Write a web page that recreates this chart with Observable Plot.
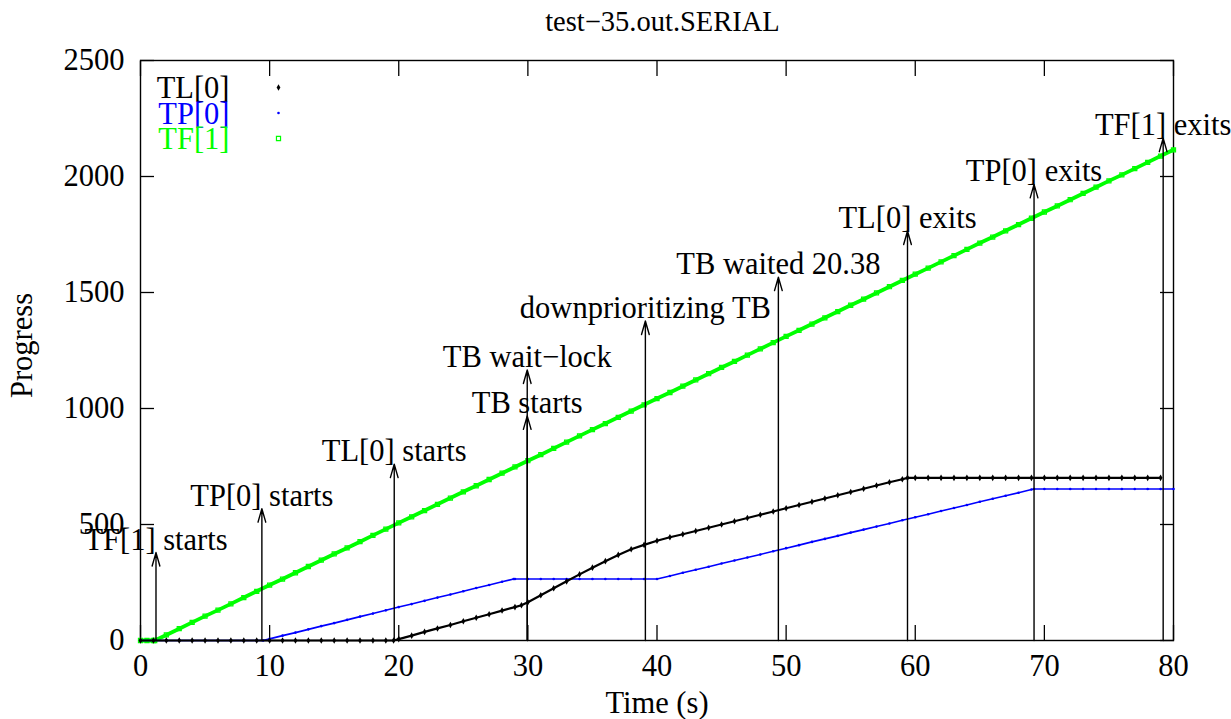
<!DOCTYPE html>
<html>
<head>
<meta charset="utf-8">
<script src="https://cdn.jsdelivr.net/npm/d3@7"></script>
<script src="https://cdn.jsdelivr.net/npm/@observablehq/plot@0.6"></script>
<style>
  html, body { margin: 0; padding: 0; background: #fff; }
  #title { width: 1231px; height: 44px; line-height: 44px; box-sizing: border-box; padding-left: 94px;
           text-align: center; font-family: "Liberation Serif", serif; font-size: 28.5px; color: #000; }
  #chart svg { display: block; }
</style>
</head>
<body>
<div id="title">test−35.out.SERIAL</div>
<div id="chart"></div>
<script>
// ---- data ----
const xTicks = [0, 10, 20, 30, 40, 50, 60, 70, 80];
const yTicks = [0, 500, 1000, 1500, 2000, 2500];

const seriesNames = ["TL[0]", "TP[0]", "TF[1]"];
const seriesColors = ["#000000", "#0000ff", "#00ff00"];

// TL[0] progress
const tlTime = [0,1,2,3,4,5,6,7,8,9,10,11,12,13,14,15,16,17,18,19,19.6,20,21,22,23,24,25,26,27,28,29,29.5,30,31,32,33,34,35,36,37,38,39,40,41,42,43,44,45,46,47,48,49,50,51,52,53,54,55,56,57,58,59,59.4,60,61,62,63,64,65,66,67,68,69,70,71,72,73,74,75,76,77,78,79,80];
const tlProgress = [0,0,0,0,0,0,0,0,0,0,0,0,0,0,0,0,0,0,0,0,0,6,21,37,52,67,83,98,113,129,144,152,165,195,225,255,285,314,342,369,393,412,430,445,458,472,486,500,514,528,542,556,570,584,598,612,626,640,654,668,682,695,701,701,701,701,701,701,701,701,701,701,701,701,701,701,701,701,701,701,701,701,701];

// TP[0] progress
const tpTime = [0,1,2,3,4,5,6,7,8,9,9.5,10,11,12,13,14,15,16,17,18,19,20,21,22,23,24,25,26,27,28,28.9,29,30,31,32,33,34,35,36,37,38,39,40,41,42,43,44,45,46,47,48,49,50,51,52,53,54,55,56,57,58,59,60,61,62,63,64,65,66,67,68,69,69.2,70,71,72,73,74,75,76,77,78,79,80];
const tpProgress = [0,0,0,0,0,0,0,0,0,0,0,7,21,34,48,62,75,89,103,116,130,144,157,171,185,198,212,226,239,253,265,265,265,265,265,265,265,265,265,265,265,265,265,278,292,305,318,332,345,358,371,385,398,411,425,438,451,465,478,491,504,518,531,544,558,571,584,598,611,624,637,651,653,653,653,653,653,653,653,653,653,653,653,653];

// TF[1] progress
const tfTime = [0,0.5,1,1.1,2,3,4,5,6,7,8,9,10,11,12,13,14,15,16,17,18,19,20,21,22,23,24,25,26,27,28,29,30,31,32,33,34,35,36,37,38,39,40,41,42,43,44,45,46,47,48,49,50,51,52,53,54,55,56,57,58,59,60,61,62,63,64,65,66,67,68,69,70,71,72,73,74,75,76,77,78,79,80];
const tfProgress = [0,0,0,0,24,51,78,105,131,158,185,212,239,265,292,319,346,373,399,426,453,480,507,533,560,587,614,641,667,694,721,748,775,801,828,855,882,909,935,962,989,1016,1043,1069,1096,1123,1150,1177,1203,1230,1257,1284,1311,1337,1364,1391,1418,1445,1471,1498,1525,1552,1579,1605,1632,1659,1686,1713,1739,1766,1793,1820,1847,1873,1900,1927,1954,1981,2007,2034,2061,2088,2115];

// event annotations (arrows)
const eventLabels = ["TF[1] starts", "TP[0] starts", "TL[0] starts", "TB starts", "TB wait−lock",
                     "downprioritizing TB", "TB waited 20.38", "TL[0] exits", "TP[0] exits", "TF[1] exits"];
const eventTime = [1.2, 9.4, 19.65, 29.95, 29.95, 39.1, 49.4, 59.4, 69.2, 79.2];
const eventTip  = [379, 568, 760, 968, 1166, 1377, 1566, 1765, 1966, 2165];

// ---- build tables ----
const toRows = (t, v) => t.map((x, i) => ({time: x, progress: v[i]}));
const tl = toRows(tlTime, tlProgress);
const tp = toRows(tpTime, tpProgress);
const tf = toRows(tfTime, tfProgress);
const events = eventLabels.map((l, i) => ({label: l, time: eventTime[i], tip: eventTip[i]}));

const FONT = "Liberation Serif";
const FS = 30.5;
const TFS = 30.5;

const legendMarks = [];
const symbolOpts = [
  {symbol: "diamond", r: 2, fill: seriesColors[0]},
  {symbol: "circle", r: 1.3, fill: seriesColors[1]},
  {symbol: "square", r: 2.3, fill: "none", stroke: seriesColors[2], strokeWidth: 1.2}
];
seriesNames.forEach((name, i) => {
  legendMarks.push(Plot.text([name], {
    frameAnchor: "top-left", dx: 89, dy: 28 + 25.3 * i, text: d => d,
    textAnchor: "end", lineAnchor: "middle", fill: seriesColors[i], fontSize: FS, fontFamily: FONT
  }));
  legendMarks.push(Plot.dot([name], {
    frameAnchor: "top-left", dx: 138, dy: 27 + 25.5 * i, ...symbolOpts[i]
  }));
});

const fmt = d => String(d);

const chart = Plot.plot({
  width: 1231,
  height: 675,
  marginTop: 16,
  marginBottom: 79,
  marginLeft: 140,
  marginRight: 58,
  style: {fontFamily: FONT, fontSize: TFS + "px", color: "#000", background: "#fff"},
  x: {domain: [0, 80]},
  y: {domain: [0, 2500]},
  marks: [
    Plot.frame({stroke: "#000", strokeWidth: 1.4}),
    Plot.axisX({anchor: "bottom", ticks: xTicks, tickFormat: fmt, tickSize: -15, tickPadding: 29, fontSize: TFS, label: null, strokeWidth: 1.3}),
    Plot.axisX({anchor: "top", ticks: xTicks, tickSize: -15, tickFormat: () => "", label: null, strokeWidth: 1.3}),
    Plot.axisY({anchor: "left", ticks: yTicks, tickFormat: fmt, tickSize: -14, tickPadding: 30, fontSize: TFS, label: null, strokeWidth: 1.3}),
    Plot.axisY({anchor: "right", ticks: yTicks, tickSize: -14, tickFormat: () => "", label: null, strokeWidth: 1.3}),
    // series
    Plot.line(tf, {x: "time", y: "progress", stroke: seriesColors[2], strokeWidth: 3.8}),
    Plot.dot(tf, {x: "time", y: "progress", ...symbolOpts[2]}),
    Plot.line(tp, {x: "time", y: "progress", stroke: seriesColors[1], strokeWidth: 1.6}),
    Plot.dot(tp, {x: "time", y: "progress", ...symbolOpts[1]}),
    Plot.line(tl, {x: "time", y: "progress", stroke: seriesColors[0], strokeWidth: 2.2}),
    Plot.dot(tl, {x: "time", y: "progress", ...symbolOpts[0]}),
    // event arrows
    Plot.arrow(events, {x1: "time", y1: 0, x2: "time", y2: "tip", stroke: "#000", strokeWidth: 1.4, headAngle: 32, headLength: 15}),
    Plot.text(events, {x: "time", y: "tip", text: "label", lineAnchor: "bottom", dy: -3, fontSize: FS, fontFamily: FONT, fill: "#000"}),
    // axis titles
    Plot.text(["Time (s)"], {frameAnchor: "bottom", dy: 72, text: d => d, lineAnchor: "bottom", fontSize: FS, fontFamily: FONT}),
    Plot.text(["Progress"], {frameAnchor: "left", dx: -118, dy: -5, text: d => d, rotate: -90, textAnchor: "middle", lineAnchor: "middle", fontSize: FS, fontFamily: FONT}),
    ...legendMarks
  ]
});
document.getElementById("chart").appendChild(chart);
</script>
</body>
</html>
